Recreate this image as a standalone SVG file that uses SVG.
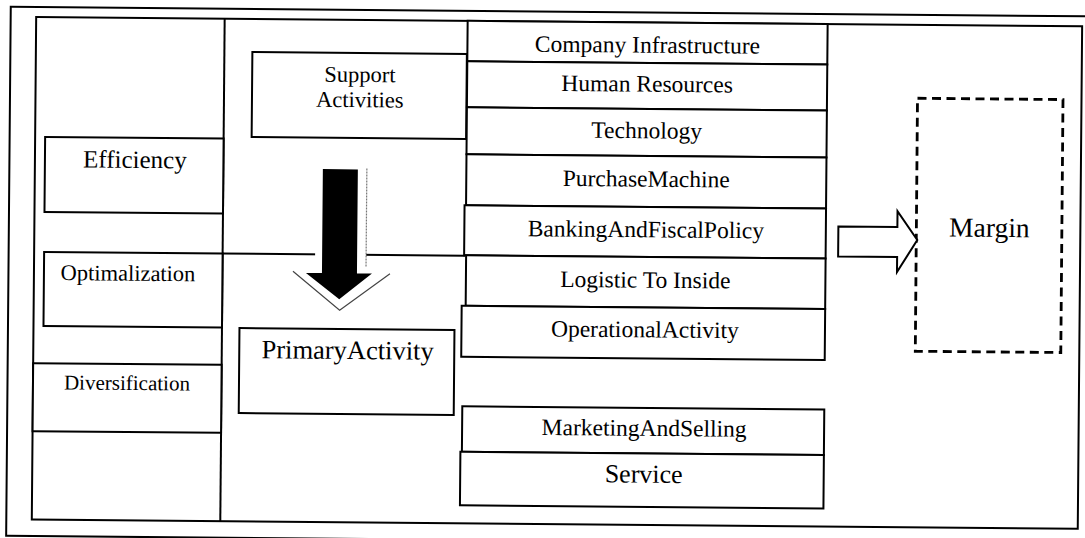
<svg xmlns="http://www.w3.org/2000/svg" width="1085" height="538" viewBox="0 0 1085 538">
  <style>
    .box { fill: #fff; stroke: #000; stroke-width: 2; }
    .ln { fill: none; stroke: #000; stroke-width: 2; }
    .dash { fill: none; stroke: #000; stroke-width: 2.8; stroke-dasharray: 9 5.5; }
    .t { font-family: "Liberation Serif", "Times New Roman", serif; fill: #000; text-anchor: middle; }
    .r { font-size: 23.5px; }
  </style>
  <rect width="1085" height="538" fill="#fff"/>
  <!-- whole chart sits slightly tilted on the page -->
  <g transform="rotate(0.5 542 269)">
    <g id="frame">
      <rect x="8.5" y="11.5" width="1090" height="529" class="ln" stroke-width="2.5"/>
      <rect x="34" y="21.5" width="1046" height="502.5" class="ln"/>
      <line x1="222.5" y1="21.5" x2="222.5" y2="524" class="ln"/>
      <line x1="222.5" y1="256.3" x2="465" y2="256.3" class="ln"/>
    </g>

    <!-- left column: strategies -->
    <g id="efficiency">
      <rect x="44" y="141.3" width="178.5" height="75" class="box"/>
      <text x="134" y="171.5" class="t" font-size="25">Efficiency</text>
    </g>
    <g id="optimalization">
      <rect x="44" y="256.3" width="178.5" height="74" class="box"/>
      <text x="128" y="284.3" class="t" font-size="22.5">Optimalization</text>
    </g>
    <g id="diversification">
      <rect x="34" y="367.6" width="188.5" height="68" class="box"/>
      <text x="128" y="393.6" class="t" font-size="21">Diversification</text>
    </g>

    <!-- middle column -->
    <g id="support-activities">
      <rect x="250.5" y="54.6" width="214.5" height="85" class="box"/>
      <text class="t" font-size="22.5"><tspan x="358.3" y="83.6">Support</tspan><tspan x="358.3" y="108.8">Activities</tspan></text>
    </g>
    <g id="primary-activity">
      <rect x="240" y="330.7" width="215" height="85" class="box"/>
      <text x="348.4" y="360.7" class="t" font-size="26.5">PrimaryActivity</text>
    </g>

    <!-- value chain activities -->
    <g id="company-infrastructure">
      <rect x="465.5" y="21.5" width="360" height="40.5" class="box"/>
      <text x="645.5" y="51.8" class="t r">Company Infrastructure</text>
    </g>
    <g id="human-resources">
      <rect x="465.5" y="62" width="360" height="46" class="box"/>
      <text x="645.5" y="90.8" class="t r">Human Resources</text>
    </g>
    <g id="technology">
      <rect x="465.5" y="108" width="360" height="47" class="box"/>
      <text x="645.5" y="137.4" class="t r">Technology</text>
    </g>
    <g id="purchase-machine">
      <rect x="465.5" y="155" width="360" height="51" class="box"/>
      <text x="645.5" y="185.8" class="t r">PurchaseMachine</text>
    </g>
    <g id="banking-fiscal-policy">
      <rect x="464" y="206" width="361.5" height="50" class="box"/>
      <text x="645.5" y="236.4" class="t r">BankingAndFiscalPolicy</text>
    </g>
    <g id="logistic-inside">
      <rect x="466" y="256" width="359.5" height="50.5" class="box"/>
      <text x="645.5" y="286.8" class="t r">Logistic To Inside</text>
    </g>
    <g id="operational-activity">
      <rect x="462" y="306.5" width="363.5" height="51" class="box"/>
      <text x="645.5" y="336.4" class="t r">OperationalActivity</text>
    </g>
    <g id="marketing-selling">
      <rect x="463.5" y="407" width="362" height="45.5" class="box"/>
      <text x="645.5" y="435" class="t r">MarketingAndSelling</text>
    </g>
    <g id="service">
      <rect x="462" y="452.5" width="363.5" height="53.5" class="box"/>
      <text x="645.5" y="481.8" class="t" font-size="26">Service</text>
    </g>

    <!-- result -->
    <g id="margin">
      <rect x="916" y="95" width="145.5" height="253" class="dash"/>
      <text x="989" y="233" class="t" font-size="27.5">Margin</text>
    </g>

    <g id="connectors">
      <!-- downward arrow with its white halo and shadow edge -->
      <polygon points="315,168 366,168 366,268.5 390,275 340,312 293,273.5 315,273.5" fill="#fff"/>
      <polyline points="366,170 366,268.5" fill="none" stroke="#777" stroke-width="1.2" stroke-dasharray="2 1"/>
      <polyline points="293,273.5 340,312 390,275" fill="none" stroke="#444" stroke-width="1.2"/>
      <path d="M322,171 H357 V275 H372 L339.5,301 L306,275 H322 Z" fill="#000"/>
      <!-- hollow arrow into margin -->
      <path d="M838,224 H897 V208 L917,236.7 L897,269 V254 H838 Z" fill="#fff" stroke="#000" stroke-width="2" stroke-linejoin="miter"/>
    </g>
  </g>
</svg>
